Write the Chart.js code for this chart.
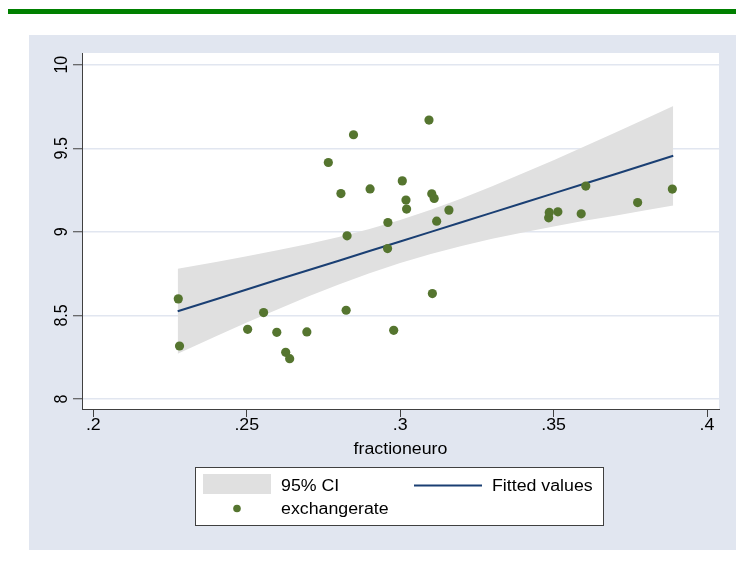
<!DOCTYPE html>
<html>
<head>
<meta charset="utf-8">
<script src="https://cdn.jsdelivr.net/npm/chart.js@4/dist/chart.umd.min.js"></script>
<style>
html, body { margin: 0; padding: 0; background: #fff; }
#wrap { width: 736px; height: 565px; }
</style>
</head>
<body>
<div id="wrap"><canvas id="chart" width="736" height="565"></canvas></div>
<script>
// observations: fractioneuro (x) vs exchangerate (y)
let fractionEuro = [0.2277, 0.2281, 0.2503, 0.2555, 0.2598, 0.2627, 0.2640, 0.2696, 0.2766, 0.2807, 0.2827,
    0.2824, 0.2848, 0.2902, 0.2960, 0.2959, 0.2979, 0.3007, 0.3019, 0.3021, 0.3094, 0.3103, 0.3111,
    0.3105, 0.3119, 0.3159, 0.3484, 0.3486, 0.3514, 0.3590, 0.3605, 0.3774, 0.3887];
let exchangeRate = [8.599, 8.317, 8.417, 8.517, 8.399, 8.279, 8.241, 8.401, 9.415, 9.229, 8.976,
    8.531, 9.581, 9.257, 9.056, 8.900, 8.411, 9.305, 9.190, 9.136, 9.669, 9.228, 9.200,
    8.631, 9.064, 9.130, 9.084, 9.116, 9.120, 9.108, 9.274, 9.175, 9.256];

let fitX = [0.2275, 0.24, 0.25, 0.26, 0.27, 0.28, 0.29, 0.30, 0.31, 0.32, 0.33, 0.34, 0.35, 0.36, 0.37, 0.38, 0.389];
let fitted = [8.525, 8.597, 8.655, 8.713, 8.770, 8.827, 8.885, 8.942, 9.000, 9.057, 9.115, 9.173, 9.230, 9.288, 9.345, 9.403, 9.455];
let ciUpper = [8.779, 8.819, 8.854, 8.890, 8.928, 8.969, 9.017, 9.071, 9.132, 9.199, 9.273, 9.350, 9.429, 9.510, 9.593, 9.677, 9.753];
let ciLower = [8.271, 8.375, 8.457, 8.536, 8.613, 8.685, 8.753, 8.813, 8.868, 8.915, 8.958, 8.996, 9.032, 9.066, 9.097, 9.129, 9.157];

let xTicks = [0.2, 0.25, 0.3, 0.35, 0.4];
let xTickLabels = [".2", ".25", ".3", ".35", ".4"];
let yTicks = [8, 8.5, 9, 9.5, 10];
let yTickLabels = ["8", "8.5", "9", "9.5", "10"];

const FONT = "16px 'Liberation Sans', Arial, sans-serif";
const STRETCH = 1.11;
const ink = "#000000";

function pts(xs, ys) {
    return xs.map((x, i) => ({x: x, y: ys[i]}));
}

// text in the slightly wide stata look
function drawText(ctx, text, x, y, align, rotated) {
    ctx.save();
    ctx.translate(x, y);
    if (rotated) {
        ctx.rotate(-Math.PI / 2);
        ctx.scale(1, STRETCH);
    } else {
        ctx.scale(STRETCH, 1);
    }
    ctx.font = FONT;
    ctx.fillStyle = ink;
    ctx.textAlign = align;
    ctx.textBaseline = "alphabetic";
    ctx.fillText(text, 0, 0);
    ctx.restore();
}

const stataFrame = {
    id: "stataFrame",
    beforeDraw(chart) {
        let ctx = chart.ctx, a = chart.chartArea;
        ctx.save();
        ctx.fillStyle = "#ffffff";
        ctx.fillRect(0, 0, chart.width, chart.height);
        ctx.fillStyle = "#008000";
        ctx.fillRect(8, 9, chart.width - 8, 5);
        ctx.fillStyle = "#e1e6f0";
        ctx.fillRect(29, 35, chart.width - 29, 515);
        ctx.fillStyle = "#ffffff";
        ctx.fillRect(a.left, a.top, a.right - a.left, a.bottom - a.top);
        ctx.restore();
    },
    afterDraw(chart) {
        let ctx = chart.ctx, a = chart.chartArea;
        let xs = chart.scales.x, ys = chart.scales.y;

        yTicks.forEach((v, i) => drawText(ctx, yTickLabels[i], 66.5, ys.getPixelForValue(v), "center", true));
        xTicks.forEach((v, i) => drawText(ctx, xTickLabels[i], xs.getPixelForValue(v), 430, "center", false));
        drawText(ctx, "fractioneuro", (a.left + a.right) / 2, 454, "center", false);

        // legend box
        ctx.save();
        ctx.fillStyle = "#ffffff";
        ctx.fillRect(195.5, 467.5, 408, 58);
        ctx.strokeStyle = "#404040";
        ctx.lineWidth = 1;
        ctx.strokeRect(195.5, 467.5, 408, 58);
        ctx.fillStyle = "#e0e0e0";
        ctx.fillRect(203, 474, 68, 20);
        ctx.strokeStyle = "#1a3f73";
        ctx.lineWidth = 2;
        ctx.beginPath();
        ctx.moveTo(414, 485.5);
        ctx.lineTo(482, 485.5);
        ctx.stroke();
        ctx.fillStyle = "#55752f";
        ctx.beginPath();
        ctx.arc(237, 508.5, 3.8, 0, Math.PI * 2);
        ctx.fill();
        ctx.restore();
        drawText(ctx, "95% CI", 281, 491, "left", false);
        drawText(ctx, "Fitted values", 492, 491, "left", false);
        drawText(ctx, "exchangerate", 281, 514, "left", false);
    }
};

let ctx = document.getElementById("chart").getContext("2d");
let chart = new Chart(ctx, {
    type: "scatter",
    data: {
        datasets: [
            {
                type: "line", label: "95% CI", data: pts(fitX, ciUpper),
                borderWidth: 0, pointRadius: 0, fill: "+1",
                backgroundColor: "#e0e0e0", order: 4
            },
            {
                type: "line", label: "lower", data: pts(fitX, ciLower),
                borderWidth: 0, pointRadius: 0, fill: false, order: 3
            },
            {
                type: "line", label: "Fitted values", data: pts(fitX, fitted),
                borderColor: "#1a3f73", borderWidth: 2, pointRadius: 0, fill: false, order: 2
            },
            {
                label: "exchangerate", data: pts(fractionEuro, exchangeRate),
                backgroundColor: "#55752f", borderColor: "#55752f", borderWidth: 0,
                pointRadius: 4.6, pointHoverRadius: 4.6, order: 1
            }
        ]
    },
    options: {
        responsive: false,
        animation: false,
        events: [],
        layout: {padding: {left: 29, top: 53, right: 17, bottom: 106}},
        plugins: {legend: {display: false}, tooltip: {enabled: false}},
        scales: {
            x: {
                type: "linear", min: 0.19632, max: 0.40391,
                afterBuildTicks: s => { s.ticks = xTicks.map(v => ({value: v})); },
                afterFit: s => { s.height = 50; },
                ticks: {display: false},
                grid: {drawOnChartArea: false, drawTicks: true, tickLength: 8, tickColor: "#404040", tickWidth: 1},
                border: {display: true, color: "#404040", width: 1}
            },
            y: {
                type: "linear", min: 7.9401, max: 10.0701,
                afterBuildTicks: s => { s.ticks = yTicks.map(v => ({value: v})); },
                afterFit: s => { s.width = 53; },
                ticks: {display: false},
                grid: {color: "#e1e6f0", lineWidth: 1.5, drawTicks: true, tickLength: 9, tickColor: "#404040", tickWidth: 1},
                border: {display: true, color: "#404040", width: 1}
            }
        }
    },
    plugins: [stataFrame]
});
</script>
</body>
</html>
